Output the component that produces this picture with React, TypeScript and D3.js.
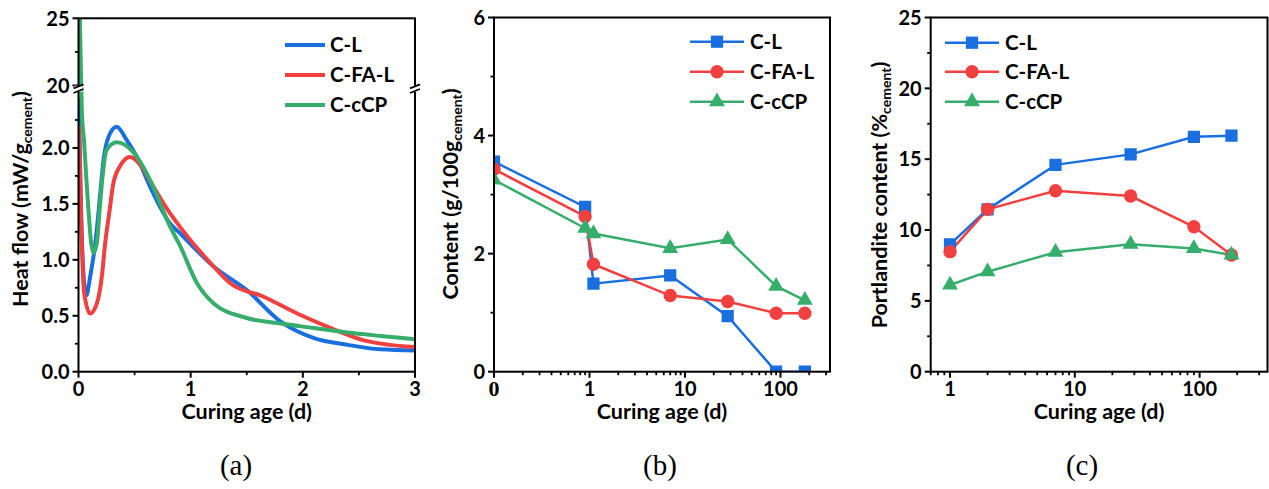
import React from 'react';
import * as d3 from 'd3';

// ---------- data ----------
const seriesNames = ['C-L', 'C-FA-L', 'C-cCP'];
const colors = ['#1a6fdf', '#f14040', '#37ad6b'];

// (a) heat flow curves: [age (d), heat flow (mW/g cement)]
const heatCL: [number, number][] = [
  [0.003, 2.45], [0.02, 1.55], [0.04, 0.95], [0.069, 0.68], [0.104, 0.85], [0.15, 1.15],
  [0.194, 1.59], [0.223, 1.89], [0.268, 2.1], [0.34, 2.19], [0.43, 2.07], [0.52, 1.92],
  [0.64, 1.65], [0.82, 1.32], [0.908, 1.235], [1.0, 1.14], [1.205, 0.94], [1.5, 0.73],
  [1.8, 0.45], [2.1, 0.3], [2.4, 0.24], [2.69, 0.2], [3.0, 0.19],
];
const heatCFAL: [number, number][] = [
  [0.003, 2.2], [0.015, 1.74], [0.03, 1.15], [0.051, 0.7], [0.104, 0.52], [0.164, 0.61],
  [0.208, 0.85], [0.238, 1.15], [0.277, 1.44], [0.31, 1.68], [0.372, 1.84], [0.46, 1.92],
  [0.55, 1.85], [0.64, 1.7], [0.82, 1.41], [0.908, 1.29], [1.205, 0.94], [1.354, 0.79],
  [1.65, 0.67], [1.95, 0.52], [2.25, 0.39], [2.545, 0.28], [3.0, 0.22],
];
const heatCcCP: [number, number][] = [
  [0.012, 25], [0.024, 20], [0.03, 2.33], [0.051, 2.04], [0.069, 1.74], [0.089, 1.44],
  [0.113, 1.15], [0.134, 1.06], [0.164, 1.15], [0.188, 1.44], [0.214, 1.74], [0.25, 1.98],
  [0.34, 2.05], [0.49, 1.96], [0.64, 1.71], [0.82, 1.29], [0.908, 1.12], [1.057, 0.79],
  [1.205, 0.61], [1.5, 0.48], [1.8, 0.43], [2.1, 0.39], [2.4, 0.35], [2.69, 0.32], [3.0, 0.29],
];
const heatLowTicks = [0, 0.5, 1.0, 1.5, 2.0];
const heatHighTicks = [20, 25];
const heatXTicks = [0, 1, 2, 3];

// (b) content (g/100g cement)
const ageB = [0.1, 0.9, 1.1, 7, 28, 90, 180];
const contentCL = [3.56, 2.79, 1.49, 1.63, 0.94, 0, 0];
const contentCFAL = [3.43, 2.63, 1.82, 1.29, 1.19, 0.99, 0.99];
const contentCcCP = [3.25, 2.43, 2.34, 2.09, 2.24, 1.45, 1.21];
const contentYTicks = [0, 2, 4, 6];
const ageBTicks = [0.1, 1, 10, 100];
const ageBTickLabels = ['0', '1', '10', '100'];

// (c) portlandite content (% cement)
const ageC = [1, 2, 7, 28, 90, 180];
const portCL = [8.99, 11.46, 14.6, 15.34, 16.58, 16.66];
const portCFAL = [8.47, 11.46, 12.77, 12.4, 10.23, 8.24];
const portCcCP = [6.12, 7.06, 8.43, 9.0, 8.7, 8.24];
const portYTicks = [0, 5, 10, 15, 20, 25];
const ageCTicks = [1, 10, 100];

const FONT = "Lato, 'Open Sans', sans-serif";
const TICK_FS = 20;
const TITLE_FS = 21.5;
const LEG_FS = 20.5;
const SUB_FS = 14;

const symbolTypes = [d3.symbolSquare, d3.symbolCircle, d3.symbolTriangle];
const symbolSizes = [150, 140, 110];

function logMinors(domain: [number, number]) {
  const out: number[] = [];
  for (let e = -2; e <= 3; e++) {
    const base = Math.pow(10, e);
    for (let k = 2; k <= 9; k++) {
      const v = k * base;
      if (v >= domain[0] * 0.999 && v <= domain[1] * 1.001) out.push(v);
    }
  }
  return out;
}

function Frame({ l, r, t, b }: { l: number; r: number; t: number; b: number }) {
  return <rect x={l} y={t} width={r - l} height={b - t} fill="none" stroke="#000" strokeWidth={2} />;
}

function XTicks({ scale, majors, minors, labels, b, serifFirst }: any) {
  return (
    <g>
      {minors.map((v: number, i: number) => (
        <line key={'mi' + i} x1={scale(v)} x2={scale(v)} y1={b} y2={b + 3.5} stroke="#000" strokeWidth={1.8} />
      ))}
      {majors.map((v: number, i: number) => (
        <g key={'ma' + i}>
          <line x1={scale(v)} x2={scale(v)} y1={b} y2={b + 6} stroke="#000" strokeWidth={2} />
          <text
            x={scale(v)}
            y={b + 24}
            textAnchor="middle"
            fontFamily={serifFirst && i === 0 ? "'Liberation Serif', serif" : FONT}
            fontWeight="bold"
            fontSize={serifFirst && i === 0 ? 22 : TICK_FS}
          >
            {labels[i]}
          </text>
        </g>
      ))}
    </g>
  );
}

function YTicks({ scale, majors, minors, labels, l }: any) {
  return (
    <g>
      {minors.map((v: number, i: number) => (
        <line key={'mi' + i} x1={l - 3.5} x2={l} y1={scale(v)} y2={scale(v)} stroke="#000" strokeWidth={1.8} />
      ))}
      {majors.map((v: number, i: number) => (
        <g key={'ma' + i}>
          <line x1={l - 6} x2={l} y1={scale(v)} y2={scale(v)} stroke="#000" strokeWidth={2} />
          <text x={l - 9} y={scale(v)} dy="0.36em" textAnchor="end" fontFamily={FONT} fontWeight="bold" fontSize={TICK_FS}>
            {labels[i]}
          </text>
        </g>
      ))}
    </g>
  );
}

function YTitle({ x, y, main, sub }: { x: number; y: number; main: string; sub: string }) {
  return (
    <text transform={`translate(${x},${y}) rotate(-90)`} textAnchor="middle" fontFamily={FONT} fontWeight="bold" fontSize={TITLE_FS}>
      {main}
      <tspan fontSize={SUB_FS} dy={4}>{sub}</tspan>
      <tspan dy={-4}>)</tspan>
    </text>
  );
}

function XTitle({ x, y }: { x: number; y: number }) {
  return (
    <text x={x} y={y} textAnchor="middle" fontFamily={FONT} fontWeight="bold" fontSize={TITLE_FS}>
      Curing age (d)
    </text>
  );
}

function PanelLabel({ x, text }: { x: number; text: string }) {
  return (
    <text x={x} y={475} textAnchor="middle" fontFamily="'Liberation Serif', 'Times New Roman', serif" fontSize={29}>
      {text}
    </text>
  );
}

function Legend({ x1, x2, tx, ys, markers, lw }: any) {
  return (
    <g>
      {seriesNames.map((n, i) => (
        <g key={n}>
          <line x1={x1} x2={x2} y1={ys[i]} y2={ys[i]} stroke={colors[i]} strokeWidth={lw} />
          {markers && (
            <path
              d={d3.symbol().type(symbolTypes[i]).size(symbolSizes[i])() as string}
              transform={`translate(${(x1 + x2) / 2},${ys[i]})`}
              fill={colors[i]}
            />
          )}
          <text x={tx} y={ys[i]} dy="0.36em" fontFamily={FONT} fontWeight="bold" fontSize={LEG_FS}>
            {n}
          </text>
        </g>
      ))}
    </g>
  );
}

function PanelA() {
  const l = 78.5, r = 415, t = 18.3, b = 371.7;
  const x = d3.scaleLinear().domain([0, 3]).range([l, r]);
  const yLow = d3.scaleLinear().domain([0, 2.5]).range([b, 92]);
  const yHigh = d3.scaleLinear().domain([20, 25]).range([85.5, t]);
  const yGap = d3.scaleLinear().domain([2.5, 20]).range([92, 85.5]);
  const y = (v: number) => (v <= 2.5 ? yLow(v) : v >= 20 ? yHigh(v) : yGap(v));
  const line = d3
    .line<[number, number]>()
    .x((d) => x(d[0]))
    .y((d) => y(d[1]))
    .curve(d3.curveMonotoneX);
  const series = [heatCL, heatCFAL, heatCcCP];
  const yb = 88.7;
  const brk = (ax: number) => (
    <g>
      <rect x={ax - 4} y={yb - 3} width={8} height={6} fill="#fff" />
      <line x1={ax - 5} y1={yb - 0.3} x2={ax + 5} y2={yb - 4.3} stroke="#000" strokeWidth={1.8} />
      <line x1={ax - 5} y1={yb + 4.3} x2={ax + 5} y2={yb + 0.3} stroke="#000" strokeWidth={1.8} />
    </g>
  );
  const lowMinors = d3.range(0.25, 2.5, 0.5);
  return (
    <g>
      <defs>
        <clipPath id="clipA">
          <rect x={l} y={t} width={r - l} height={b - t} />
        </clipPath>
      </defs>
      <g clipPath="url(#clipA)">
        {series.map((s, i) => (
          <path key={i} d={line(s) as string} fill="none" stroke={colors[i]} strokeWidth={4} strokeLinejoin="round" />
        ))}
      </g>
      <Frame l={l} r={r} t={t} b={b} />
      <YTicks scale={yLow} majors={heatLowTicks} minors={lowMinors} labels={heatLowTicks.map((v) => v.toFixed(1))} l={l} />
      <YTicks scale={yHigh} majors={heatHighTicks} minors={[22.5]} labels={heatHighTicks.map(String)} l={l} />
      <XTicks scale={x} majors={heatXTicks} minors={[0.5, 1.5, 2.5]} labels={heatXTicks.map(String)} b={b} />
      {brk(l)}
      {brk(r)}
      <Legend x1={285} x2={325} tx={330} ys={[45, 75, 105]} markers={false} lw={4} />
      <XTitle x={(l + r) / 2} y={419} />
      <YTitle x={28} y={199} main="Heat flow (mW/g" sub="cement" />
      <PanelLabel x={236} text="(a)" />
    </g>
  );
}

function PointsPanel({ id, l, r, t, b, xDomain, yDomain, xs, ys, yTicks, yMinors, xTicks, xLabels, serifFirst, legend, title, label, labelX }: any) {
  const x = d3.scaleLog().domain(xDomain).range([l, r]);
  const y = d3.scaleLinear().domain(yDomain).range([b, t]);
  const line = d3
    .line<number>()
    .x((_, i) => x(xs[i]))
    .y((d) => y(d));
  return (
    <g>
      <defs>
        <clipPath id={id}>
          <rect x={l} y={t} width={r - l} height={b - t} />
        </clipPath>
      </defs>
      <g clipPath={`url(#${id})`}>
        {ys.map((s: number[], i: number) => (
          <path key={'l' + i} d={line(s) as string} fill="none" stroke={colors[i]} strokeWidth={2.5} />
        ))}
        {ys.map((s: number[], i: number) =>
          s.map((v, j) => (
            <path
              key={'m' + i + '-' + j}
              d={d3.symbol().type(symbolTypes[i]).size(symbolSizes[i])() as string}
              transform={`translate(${x(xs[j])},${y(v)})`}
              fill={colors[i]}
            />
          ))
        )}
      </g>
      <Frame l={l} r={r} t={t} b={b} />
      <YTicks scale={y} majors={yTicks} minors={yMinors} labels={yTicks.map(String)} l={l} />
      <XTicks scale={x} majors={xTicks} minors={logMinors(xDomain)} labels={xLabels} b={b} serifFirst={serifFirst} />
      <Legend {...legend} markers={true} lw={2.5} />
      <XTitle x={(l + r) / 2} y={419} />
      <YTitle {...title} />
      <PanelLabel x={labelX} text={label} />
    </g>
  );
}

export default function App() {
  return (
    <svg width={1269} height={489} style={{ position: 'absolute', left: 0, top: 0, background: '#fff' }}>
      <rect width={1269} height={489} fill="#fff" />
      <PanelA />
      <PointsPanel
        id="clipB"
        l={494}
        r={830}
        t={17.5}
        b={371.7}
        xDomain={[0.1, 330]}
        yDomain={[0, 6]}
        xs={ageB}
        ys={[contentCL, contentCFAL, contentCcCP]}
        yTicks={contentYTicks}
        yMinors={[1, 3, 5]}
        xTicks={ageBTicks}
        xLabels={ageBTickLabels}
        serifFirst={true}
        legend={{ x1: 690, x2: 744, tx: 750, ys: [41.7, 71.7, 101.7] }}
        title={{ x: 458, y: 194, main: 'Content (g/100g', sub: 'cement' }}
        label="(b)"
        labelX={660}
      />
      <PointsPanel
        id="clipC"
        l={930.7}
        r={1267.5}
        t={17.5}
        b={371.7}
        xDomain={[0.7, 350]}
        yDomain={[0, 25]}
        xs={ageC}
        ys={[portCL, portCFAL, portCcCP]}
        yTicks={portYTicks}
        yMinors={[2.5, 7.5, 12.5, 17.5, 22.5]}
        xTicks={ageCTicks}
        xLabels={ageCTicks.map(String)}
        serifFirst={false}
        legend={{ x1: 945, x2: 999, tx: 1005, ys: [42.7, 71.7, 101.7] }}
        title={{ x: 887, y: 195, main: 'Portlandite content (%', sub: 'cement' }}
        label="(c)"
        labelX={1082}
      />
    </svg>
  );
}
